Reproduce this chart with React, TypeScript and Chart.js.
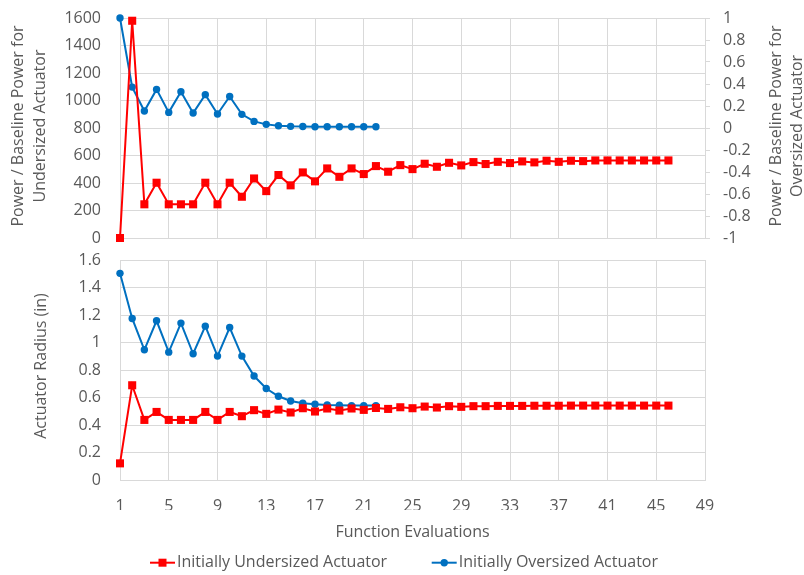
import React, { useEffect, useRef } from 'react';
import { Chart, registerables } from 'chart.js';

Chart.register(...registerables);

// ---------- data ----------
const xTickValues = [1, 5, 9, 13, 17, 21, 25, 29, 33, 37, 41, 45, 49];
const powerLeftTicks = [0, 200, 400, 600, 800, 1000, 1200, 1400, 1600];
const powerRightTicks = [-1, -0.8, -0.6, -0.4, -0.2, 0, 0.2, 0.4, 0.6, 0.8, 1];
const radiusTicks = [0, 0.2, 0.4, 0.6, 0.8, 1, 1.2, 1.4, 1.6];

const undersizedLabel = 'Initially Undersized Actuator';
const oversizedLabel = 'Initially Oversized Actuator';

// Power / baseline power, undersized actuator (left axis of top panel)
const undersizedPower = [
  0, 1580, 245, 402, 245, 245, 245, 402, 245, 402,
  300, 433, 341, 458, 383, 477, 412, 506, 445, 506,
  465, 523, 482, 530, 501, 540, 518, 547, 528, 552,
  538, 554, 545, 557, 550, 562, 554, 562, 559, 564,
  564, 564, 564, 564, 564, 564,
];

// Power / baseline power, oversized actuator (right axis of top panel)
const oversizedPower = [
  1.0, 0.372, 0.154, 0.351, 0.142, 0.33, 0.136, 0.303, 0.127, 0.287,
  0.124, 0.06, 0.033, 0.021, 0.015, 0.013, 0.012, 0.012, 0.012, 0.012,
  0.012, 0.012,
];

// Actuator radius (in)
const undersizedRadius = [
  0.121, 0.689, 0.437, 0.495, 0.437, 0.437, 0.437, 0.495, 0.437, 0.495,
  0.464, 0.508, 0.481, 0.512, 0.491, 0.522, 0.498, 0.52, 0.505, 0.52,
  0.51, 0.524, 0.517, 0.529, 0.522, 0.534, 0.527, 0.537, 0.532, 0.537,
  0.537, 0.539, 0.539, 0.539, 0.54, 0.54, 0.54, 0.541, 0.541, 0.541,
  0.541, 0.541, 0.541, 0.541, 0.541, 0.541,
];
const oversizedRadius = [
  1.503, 1.175, 0.947, 1.158, 0.93, 1.141, 0.918, 1.119, 0.901, 1.109,
  0.901, 0.756, 0.665, 0.609, 0.575, 0.558, 0.551, 0.546, 0.544, 0.541,
  0.541, 0.541,
];

// ---------- styling ----------
const RED = '#ff0000';
const BLUE = '#0070c0';
const GRID = '#d9d9d9';
const TEXT = '#595959';
const FONT = "'Open Sans', sans-serif";
const FS = 16;

const toPoints = (arr: number[]) => arr.map((v, i) => ({ x: i + 1, y: v }));
const fmt = (v: number) => String(Math.round(v * 10) / 10);

function vText(ctx: CanvasRenderingContext2D, text: string, x: number, y: number) {
  ctx.save();
  ctx.translate(x, y);
  ctx.rotate(-Math.PI / 2);
  ctx.textAlign = 'center';
  ctx.textBaseline = 'middle';
  ctx.fillText(text, 0, 0);
  ctx.restore();
}

const redStyle = {
  borderColor: RED,
  backgroundColor: RED,
  borderWidth: 2,
  pointStyle: 'rect' as const,
  pointRadius: 5.7,
  pointBorderWidth: 0,
  tension: 0,
  clip: false as any,
};
const blueStyle = {
  borderColor: BLUE,
  backgroundColor: BLUE,
  borderWidth: 2,
  pointStyle: 'circle' as const,
  pointRadius: 3.7,
  pointBorderWidth: 0,
  tension: 0,
  clip: false as any,
};

function xScale(showLabels: boolean) {
  return {
    type: 'linear' as const,
    min: 1,
    max: 49,
    afterBuildTicks: (s: any) => {
      s.ticks = xTickValues.map((v) => ({ value: v }));
    },
    afterFit: (s: any) => {
      s.height = showLabels ? 30 : 0;
      s.paddingLeft = 0;
      s.paddingRight = 0;
    },
    grid: { color: GRID, drawTicks: false },
    border: { color: GRID },
    ticks: {
      display: showLabels,
      autoSkip: false,
      maxRotation: 0,
      padding: 17,
      color: TEXT,
      font: { family: FONT, size: FS },
      callback: (v: any) => String(v),
    },
  };
}

function yScale(position: string, min: number, max: number, ticks: number[], width: number, extra: any) {
  return {
    position,
    min,
    max,
    afterBuildTicks: (s: any) => {
      s.ticks = ticks.map((v) => ({ value: v }));
    },
    afterFit: (s: any) => {
      s.width = width;
      s.paddingTop = 0;
      s.paddingBottom = 0;
    },
    ...extra,
  };
}

export default function App() {
  const topRef = useRef<HTMLCanvasElement>(null);
  const botRef = useRef<HTMLCanvasElement>(null);

  useEffect(() => {
    Chart.defaults.font.family = FONT;
    Chart.defaults.color = TEXT;

    const topTitles = {
      id: 'topTitles',
      afterDraw(chart: any) {
        const ctx = chart.ctx as CanvasRenderingContext2D;
        ctx.save();
        ctx.fillStyle = TEXT;
        ctx.font = `${FS}px ${FONT}`;
        vText(ctx, 'Power / Baseline Power for', 18.5, 126);
        vText(ctx, 'Undersized Actuator', 40, 126);
        vText(ctx, 'Power / Baseline Power for', 776, 126);
        vText(ctx, 'Oversized Actuator', 797.5, 126);
        ctx.restore();
      },
    };

    const tickFont = { family: FONT, size: FS };

    const top = new Chart(topRef.current!, {
      type: 'line',
      data: {
        datasets: [
          { label: undersizedLabel, data: toPoints(undersizedPower), yAxisID: 'yL', ...redStyle },
          { label: oversizedLabel, data: toPoints(oversizedPower), yAxisID: 'yR', ...blueStyle },
        ],
      },
      options: {
        animation: false,
        responsive: true,
        maintainAspectRatio: false,
        layout: { padding: { top: 18, bottom: 12, left: 0, right: 0 } },
        plugins: { legend: { display: false }, tooltip: { enabled: false } },
        scales: {
          x: xScale(false),
          yL: yScale('left', 0, 1600, powerLeftTicks, 120, {
            grid: { color: GRID, drawTicks: false },
            border: { color: GRID },
            ticks: { autoSkip: false, padding: 19, color: TEXT, font: tickFont, callback: (v: any) => String(v) },
          }),
          yR: yScale('right', -1, 1, powerRightTicks, 99, {
            grid: { drawOnChartArea: false, drawTicks: true, tickLength: 5, tickColor: GRID, color: GRID },
            border: { color: GRID },
            ticks: { autoSkip: false, padding: 13, color: TEXT, font: tickFont, callback: (v: any) => fmt(Number(v)) },
          }),
        } as any,
      },
      plugins: [topTitles],
    } as any);

    const botTexts = {
      id: 'botTexts',
      afterDraw(chart: any) {
        const ctx = chart.ctx as CanvasRenderingContext2D;
        ctx.save();
        ctx.fillStyle = TEXT;
        ctx.font = `${FS}px ${FONT}`;
        vText(ctx, 'Actuator Radius (in)', 41.5, 118);
        ctx.textAlign = 'center';
        ctx.textBaseline = 'middle';
        ctx.fillText('Function Evaluations', 412.5, 284.7);

        // legend
        const ly = 314.7;
        const items = chart.data.datasets.map((d: any) => ({ label: d.label, color: d.borderColor, style: d.pointStyle }));
        const starts = [150, 431.7];
        items.forEach((it: any, i: number) => {
          const x0 = starts[i];
          ctx.strokeStyle = it.color;
          ctx.fillStyle = it.color;
          ctx.lineWidth = 2;
          ctx.beginPath();
          ctx.moveTo(x0, ly);
          ctx.lineTo(x0 + 25, ly);
          ctx.stroke();
          if (it.style === 'rect') {
            ctx.fillRect(x0 + 12.5 - 4, ly - 4, 8, 8);
          } else {
            ctx.beginPath();
            ctx.arc(x0 + 12.5, ly, 3.7, 0, Math.PI * 2);
            ctx.fill();
          }
          ctx.fillStyle = TEXT;
          ctx.textAlign = 'left';
          ctx.textBaseline = 'middle';
          ctx.fillText(it.label, x0 + 27, ly);
        });
        ctx.restore();
      },
    };

    const bot = new Chart(botRef.current!, {
      type: 'line',
      data: {
        datasets: [
          { label: undersizedLabel, data: toPoints(undersizedRadius), yAxisID: 'y', ...redStyle },
          { label: oversizedLabel, data: toPoints(oversizedRadius), yAxisID: 'y', ...blueStyle },
        ],
      },
      options: {
        animation: false,
        responsive: true,
        maintainAspectRatio: false,
        layout: { padding: { top: 12, bottom: 65, left: 0, right: 99 } },
        plugins: { legend: { display: false }, tooltip: { enabled: false } },
        scales: {
          x: xScale(true),
          y: yScale('left', 0, 1.6, radiusTicks, 120, {
            grid: { color: GRID, drawTicks: false },
            border: { color: GRID },
            ticks: { autoSkip: false, padding: 19, color: TEXT, font: tickFont, callback: (v: any) => fmt(Number(v)) },
          }),
        } as any,
      },
      plugins: [botTexts],
    } as any);

    let alive = true;
    (document as any).fonts?.load?.(`${FS}px 'Open Sans'`).then(() => {
      if (alive) {
        top.update();
        bot.update();
      }
    }).catch(() => {});

    return () => {
      alive = false;
      top.destroy();
      bot.destroy();
    };
  }, []);

  return (
    <div style={{ position: 'absolute', left: 0, top: 0, width: 804, height: 575, background: '#fff' }}>
      <div style={{ position: 'absolute', left: 0, top: 0, width: 804, height: 250 }}>
        <canvas ref={topRef} />
      </div>
      <div style={{ position: 'absolute', left: 0, top: 248, width: 804, height: 327 }}>
        <canvas ref={botRef} />
      </div>
    </div>
  );
}
